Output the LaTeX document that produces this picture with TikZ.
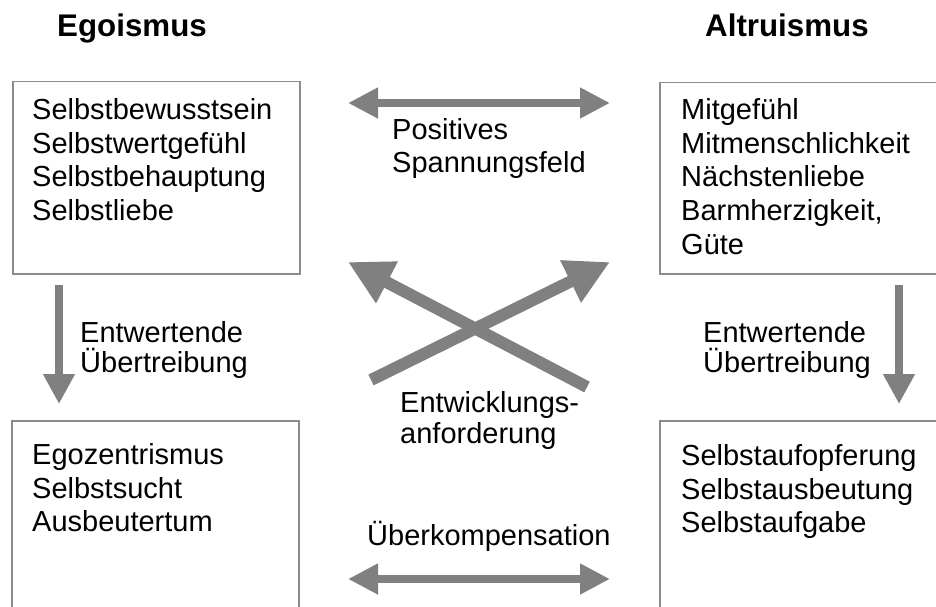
\documentclass[tikz,border=0pt]{standalone}
\usepackage{fontspec}
\setmainfont{Liberation Sans}
\usetikzlibrary{arrows.meta}
\definecolor{arrowgray}{HTML}{808080}
\definecolor{boxgray}{HTML}{8C8C8C}
\tikzset{
  box/.style={draw=boxgray, line width=1.5pt, inner sep=0pt},
  boxtext/.style={anchor=north west, inner sep=0pt, align=left, font=\fontsize{29}{33.8}\selectfont},
  lbl/.style={anchor=north west, inner sep=0pt, align=left},
  heading/.style={anchor=base west, inner sep=0pt, font=\fontsize{31.3}{36}\selectfont\bfseries},
  thinarrow/.style={draw=arrowgray, line width=7.5pt, -{Triangle[length=30pt, width=30pt]}},
  thinboth/.style={draw=arrowgray, line width=7.5pt, {Triangle[length=30pt, width=29pt]}-{Triangle[length=30pt, width=29pt]}},
  thickarrow/.style={draw=arrowgray, line width=12pt, -{Triangle[length=44pt, width=44pt]}}
}
\begin{document}
\begin{tikzpicture}[x=1pt, y=-1pt]
\clip (0,0) rectangle (936,607);
\useasboundingbox (0,0) rectangle (936,607);
% headings
\node[heading] (ego) at (57,37) {Egoismus};
\node[heading] (alt) at (705,37) {Altruismus};
% boxes
\node[box, anchor=north west, minimum width=287pt, minimum height=192pt] (tl) at (12,81) {};
\node[box, anchor=north west, minimum width=290pt, minimum height=191pt] (tr) at (659,82) {};
\node[box, anchor=north west, minimum width=287pt, minimum height=210pt] (bl) at (11,420) {};
\node[box, anchor=north west, minimum width=290pt, minimum height=210pt] (br) at (659,420) {};
% box texts
\node[boxtext] (tlt) at (32,98) {Selbstbewusstsein\\Selbstwertgefühl\\Selbstbehauptung\\Selbstliebe};
\node[boxtext] (trt) at (681,98) {Mitgefühl\\Mitmenschlichkeit\\Nächstenliebe\\Barmherzigkeit,\\Güte};
\node[boxtext] (blt) at (32,443) {Egozentrismus\\Selbstsucht\\Ausbeutertum};
\node[boxtext] (brt) at (681,444) {Selbstaufopferung\\Selbstausbeutung\\Selbstaufgabe};
% labels
\node[lbl, font=\fontsize{29}{33}\selectfont] (pos) at (392,118) {Positives\\Spannungsfeld};
\node[lbl, font=\fontsize{29}{30}\selectfont] (entl) at (80,321) {Entwertende\\Übertreibung};
\node[lbl, font=\fontsize{29}{30}\selectfont] (entr) at (703,321) {Entwertende\\Übertreibung};
\node[lbl, font=\fontsize{29}{31}\selectfont] (entw) at (400,391) {Entwicklungs-\\anforderung};
\node[anchor=base west, inner sep=0pt, font=\fontsize{29}{33}\selectfont] (ueb) at (367,545) {Überkompensation};
% arrow end points
\coordinate (topL) at (348,103);
\coordinate (topR) at (610,103);
\coordinate (botL) at (348,579);
\coordinate (botR) at (610,579);
\coordinate (dlS) at (59,285);
\coordinate (dlE) at (59,404);
\coordinate (drS) at (899,285);
\coordinate (drE) at (899,404);
\coordinate (aS) at (371,380);
\coordinate (aE) at (610,262);
\coordinate (bS) at (587,387);
\coordinate (bE) at (348,262);
% arrows
\draw[thinboth] (topL) -- (topR);
\draw[thinboth] (botL) -- (botR);
\draw[thinarrow] (dlS) -- (dlE);
\draw[thinarrow] (drS) -- (drE);
\draw[thickarrow] (aS) -- (aE);
\draw[thickarrow] (bS) -- (bE);
\end{tikzpicture}
\end{document}
